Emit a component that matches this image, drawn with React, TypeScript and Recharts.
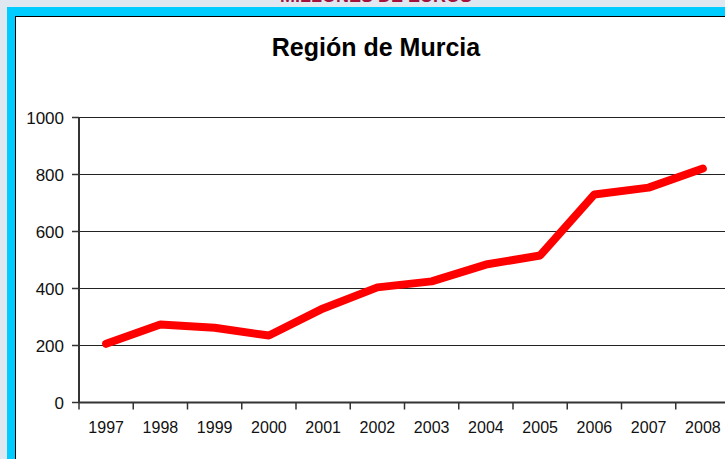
import React from 'react';
import { LineChart, Line, XAxis, YAxis, CartesianGrid } from 'recharts';

const years = ['1997', '1998', '1999', '2000', '2001', '2002', '2003', '2004', '2005', '2006', '2007', '2008'];
const values = [206, 274, 262, 235, 330, 404, 425, 484, 516, 730, 754, 821];
const yTicks = [0, 200, 400, 600, 800, 1000];

const data = years.map((year, i) => ({ year, value: values[i] }));

const CHART_W = 760;
const PLOT_LEFT = 79;
const PLOT_RIGHT = 730;
const BAND = (PLOT_RIGHT - PLOT_LEFT) / years.length;

const YearTick = (props: any) => {
  const { x, y, payload } = props;
  return (
    <g>
      <line x1={x - BAND / 2} y1={y} x2={x - BAND / 2} y2={y + 7} stroke="#333" strokeWidth={1.5} />
      <text x={x} y={y + 30} textAnchor="middle" fontSize={16} fill="#111" fontFamily="'Liberation Sans', Arial, sans-serif">
        {payload.value}
      </text>
    </g>
  );
};

const App: React.FC = () => {
  return (
    <div style={{ position: 'fixed', left: 0, top: 0, width: 725, height: 459, overflow: 'hidden', background: '#dfe7f1', fontFamily: "'Liberation Sans', Arial, sans-serif" }}>
      <div style={{ position: 'absolute', left: 0, top: -14, width: 752, textAlign: 'center', fontSize: 18, fontWeight: 'bold', color: '#a3103c' }}>
        MILLONES DE EUROS
      </div>
      <div style={{ position: 'absolute', left: 7, top: 7, width: 760, height: 470, background: '#00ccff' }} />
      <div style={{ position: 'absolute', left: 15, top: 16, width: 760, height: 470, background: '#fff', borderLeft: '1.5px solid #000', borderTop: '1.5px solid #000' }} />
      <div style={{ position: 'absolute', left: 16, top: 33, width: 720, textAlign: 'center', fontSize: 25, fontWeight: 'bold', color: '#000' }}>
        Región de Murcia
      </div>
      <div style={{ position: 'absolute', left: 0, top: 0 }}>
        <LineChart width={CHART_W} height={459} data={data} margin={{ top: 117.5, right: CHART_W - PLOT_RIGHT, left: 19, bottom: 26.5 }}>
          <CartesianGrid vertical={false} stroke="#222" strokeWidth={1} />
          <XAxis
            dataKey="year"
            scale="band"
            interval={0}
            height={30}
            tickSize={0}
            tickMargin={0}
            tickLine={false}
            tick={<YearTick />}
            axisLine={{ stroke: '#333', strokeWidth: 2 }}
          />
          <YAxis
            domain={[0, 1000]}
            ticks={yTicks}
            width={60}
            tickSize={7}
            tickMargin={8}
            tickLine={{ stroke: '#333', strokeWidth: 1.5 }}
            axisLine={{ stroke: '#333', strokeWidth: 2 }}
            tick={{ fontSize: 17, fill: '#111' }}
          />
          <Line
            type="linear"
            dataKey="value"
            stroke="#ff0000"
            strokeWidth={8}
            strokeLinecap="round"
            strokeLinejoin="round"
            dot={false}
            isAnimationActive={false}
          />
        </LineChart>
      </div>
    </div>
  );
};

export default App;
